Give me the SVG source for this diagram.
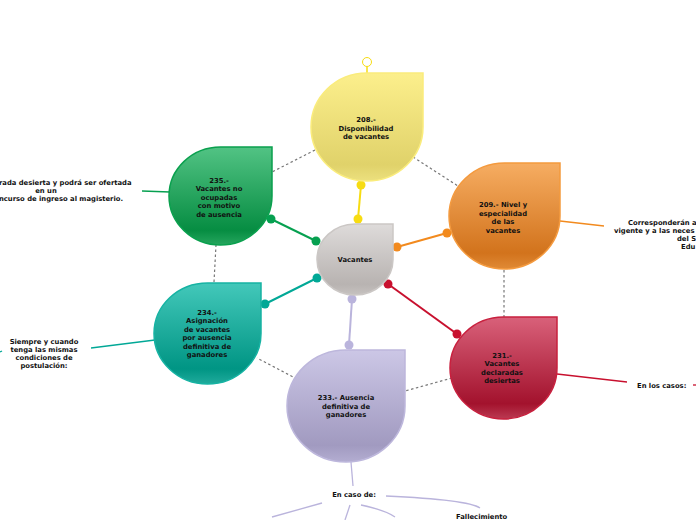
<svg xmlns="http://www.w3.org/2000/svg" width="696" height="520" viewBox="0 0 696 520">
<defs>
<linearGradient id="gC" x1="0" y1="0" x2="0" y2="1"><stop offset="0" stop-color="#dedbda"/><stop offset="0.85" stop-color="#b8b3b1"/><stop offset="1" stop-color="#c6c2c0"/></linearGradient>
<linearGradient id="gY" x1="0" y1="0" x2="0" y2="1"><stop offset="0" stop-color="#fcef8c"/><stop offset="0.85" stop-color="#e0d26a"/><stop offset="1" stop-color="#ece07e"/></linearGradient>
<linearGradient id="gO" x1="0" y1="0" x2="0" y2="1"><stop offset="0" stop-color="#f6ad62"/><stop offset="0.85" stop-color="#d2731c"/><stop offset="1" stop-color="#e08a36"/></linearGradient>
<linearGradient id="gR" x1="0" y1="0" x2="0" y2="1"><stop offset="0" stop-color="#d9617a"/><stop offset="0.85" stop-color="#a3122d"/><stop offset="1" stop-color="#bb3a52"/></linearGradient>
<linearGradient id="gL" x1="0" y1="0" x2="0" y2="1"><stop offset="0" stop-color="#ccc7e6"/><stop offset="0.85" stop-color="#a19ac0"/><stop offset="1" stop-color="#b3add1"/></linearGradient>
<linearGradient id="gT" x1="0" y1="0" x2="0" y2="1"><stop offset="0" stop-color="#43c8ba"/><stop offset="0.85" stop-color="#009584"/><stop offset="1" stop-color="#20ab9c"/></linearGradient>
<linearGradient id="gG" x1="0" y1="0" x2="0" y2="1"><stop offset="0" stop-color="#52c384"/><stop offset="0.85" stop-color="#068d42"/><stop offset="1" stop-color="#26a65e"/></linearGradient>
</defs>
<style>
text{font-family:"DejaVu Sans",Verdana,sans-serif;font-weight:bold;font-size:6.8px;fill:#111;}
.c{text-anchor:middle;}
.dash{stroke:#777;stroke-width:1.2;stroke-dasharray:2.5,2.5;fill:none;}
.ln{fill:none;stroke-width:2;}
.thin{fill:none;stroke-width:1.3;}
.node{stroke-width:1.5;}
</style>
<g id="connectors">
<path class="dash" d="M315,150 L272,172"/>
<path class="dash" d="M413,157 L458,186"/>
<path class="dash" d="M504,270 L504,317"/>
<path class="dash" d="M452,378 L405,391"/>
<path class="dash" d="M297,379 L257,358"/>
<path class="dash" d="M214,282 L216,245"/>
<g stroke="#f7dc12" fill="#f7dc12"><path class="ln" d="M358,219 L361,185"/><circle cx="358" cy="219" r="4.5" stroke="none"/><circle cx="361" cy="185" r="4.5" stroke="none"/></g>
<g stroke="#f28a1e" fill="#f28a1e"><path class="ln" d="M397,247 L447,233"/><circle cx="397" cy="247" r="4.5" stroke="none"/><circle cx="447" cy="233" r="4.5" stroke="none"/></g>
<g stroke="#c8102e" fill="#c8102e"><path class="ln" d="M388,284 L457,334"/><circle cx="388" cy="284" r="4.5" stroke="none"/><circle cx="457" cy="334" r="4.5" stroke="none"/></g>
<g stroke="#bab4dc" fill="#bab4dc"><path class="ln" d="M352,299 L349,345"/><circle cx="352" cy="299" r="4.5" stroke="none"/><circle cx="349" cy="345" r="4.5" stroke="none"/></g>
<g stroke="#00a896" fill="#00a896"><path class="ln" d="M317,278 L265,304"/><circle cx="317" cy="278" r="4.5" stroke="none"/><circle cx="265" cy="304" r="4.5" stroke="none"/></g>
<g stroke="#06a050" fill="#06a050"><path class="ln" d="M316,241 L271,219"/><circle cx="316" cy="241" r="4.5" stroke="none"/><circle cx="271" cy="219" r="4.5" stroke="none"/></g>
<path class="thin" stroke="#06a050" d="M170,192 L142,191"/>
<path class="thin" stroke="#00a896" d="M155,340 L91,348"/>
<path class="thin" stroke="#00a896" d="M0,352 L2,351"/>
<path class="thin" stroke="#f28a1e" d="M560,221 L604,226"/>
<path class="thin" stroke="#c8102e" d="M557,374 L627,382"/>
<path class="thin" stroke="#c8102e" d="M693,385 L696,385"/>
<path class="thin" stroke="#bab4dc" d="M351,462 L353,486"/>
<path class="thin" stroke="#bab4dc" d="M386,496 C430,498 470,501 480,508"/>
<path class="thin" stroke="#bab4dc" d="M322,503 L272,517"/>
<path class="thin" stroke="#bab4dc" d="M350,505 L345,520"/>
<path class="thin" stroke="#bab4dc" d="M361,505 C375,508 388,512 395,517"/>
<path stroke="#f7dc12" stroke-width="1.5" d="M367,66.5 L367,73"/>
<circle cx="367" cy="62" r="4.5" fill="#fff" stroke="#f7dc12" stroke-width="1"/>
</g>
<g id="n-vacantes"><path class="node" fill="url(#gC)" stroke="#cbc7c5" d="M355,224 H393 V259.5 A38,35.5 0 0 1 355,295 A38,35.5 0 0 1 317,259.5 A38,35.5 0 0 1 355,224 Z"/><text class="c" x="355" y="262">Vacantes</text></g>
<g id="n-208"><path class="node" fill="url(#gY)" stroke="#faec7c" d="M367,73 H423 V127 A56,54 0 0 1 367,181 A56,54 0 0 1 311,127 A56,54 0 0 1 367,73 Z"/><text class="c" x="366" y="122">208.-</text><text class="c" x="366" y="130.5">Disponibilidad</text><text class="c" x="366" y="139">de vacantes</text></g>
<g id="n-209"><path class="node" fill="url(#gO)" stroke="#f49a3e" d="M504.5,163 H560 V216 A55.5,53 0 0 1 504.5,269 A55.5,53 0 0 1 449,216 A55.5,53 0 0 1 504.5,163 Z"/><text class="c" x="503" y="207">209.- Nivel y</text><text class="c" x="503" y="215.5">especialidad</text><text class="c" x="503" y="224">de las</text><text class="c" x="503" y="232.5">vacantes</text></g>
<g id="n-231"><path class="node" fill="url(#gR)" stroke="#c8203e" d="M503.5,317 H557 V368 A53.5,51 0 0 1 503.5,419 A53.5,51 0 0 1 450,368 A53.5,51 0 0 1 503.5,317 Z"/><text class="c" x="502" y="357.5">231.-</text><text class="c" x="502" y="366">Vacantes</text><text class="c" x="502" y="374.5">declaradas</text><text class="c" x="502" y="383">desiertas</text></g>
<g id="n-233"><path class="node" fill="url(#gL)" stroke="#bdb7dc" d="M346,350 H405 V406 A59,56 0 0 1 346,462 A59,56 0 0 1 287,406 A59,56 0 0 1 346,350 Z"/><text class="c" x="346" y="400">233.- Ausencia</text><text class="c" x="346" y="408.5">definitiva de</text><text class="c" x="346" y="417">ganadores</text></g>
<g id="n-234"><path class="node" fill="url(#gT)" stroke="#16b3a3" d="M207.5,283 H261 V333.5 A53.5,50.5 0 0 1 207.5,384 A53.5,50.5 0 0 1 154,333.5 A53.5,50.5 0 0 1 207.5,283 Z"/><text class="c" x="207" y="314.5">234.-</text><text class="c" x="207" y="323">Asignación</text><text class="c" x="207" y="331.5">de vacantes</text><text class="c" x="207" y="340">por ausencia</text><text class="c" x="207" y="348.5">definitiva de</text><text class="c" x="207" y="357">ganadores</text></g>
<g id="n-235"><path class="node" fill="url(#gG)" stroke="#0aa04e" d="M220.5,147 H272 V196 A51.5,49 0 0 1 220.5,245 A51.5,49 0 0 1 169,196 A51.5,49 0 0 1 220.5,147 Z"/><text class="c" x="219" y="182.5">235.-</text><text class="c" x="219" y="191">Vacantes no</text><text class="c" x="219" y="199.5">ocupadas</text><text class="c" x="219" y="208">con motivo</text><text class="c" x="219" y="216.5">de ausencia</text></g>
<g id="leaf-235"><text x="-1" y="184.5">rada desierta y podrá ser ofertada</text><text class="c" x="46" y="192.5">en un</text><text x="-1" y="200.5">ncurso de ingreso al magisterio.</text></g>
<g id="leaf-234"><text class="c" x="44" y="344">Siempre y cuando</text><text class="c" x="44" y="352">tenga las mismas</text><text class="c" x="44" y="360">condiciones de</text><text class="c" x="44" y="368">postulación:</text></g>
<g id="leaf-209"><text x="628" y="225">Corresponderán a</text><text x="614" y="233">vigente y a las neces</text><text x="677" y="241">del S</text><text x="681" y="249">Edu</text></g>
<g id="leaf-231"><text x="637" y="388">En los casos:</text></g>
<g id="leaf-233"><text class="c" x="354" y="496.5">En caso de:</text></g>
<g id="leaf-fall"><text x="456" y="519">Fallecimiento</text></g>
</svg>
